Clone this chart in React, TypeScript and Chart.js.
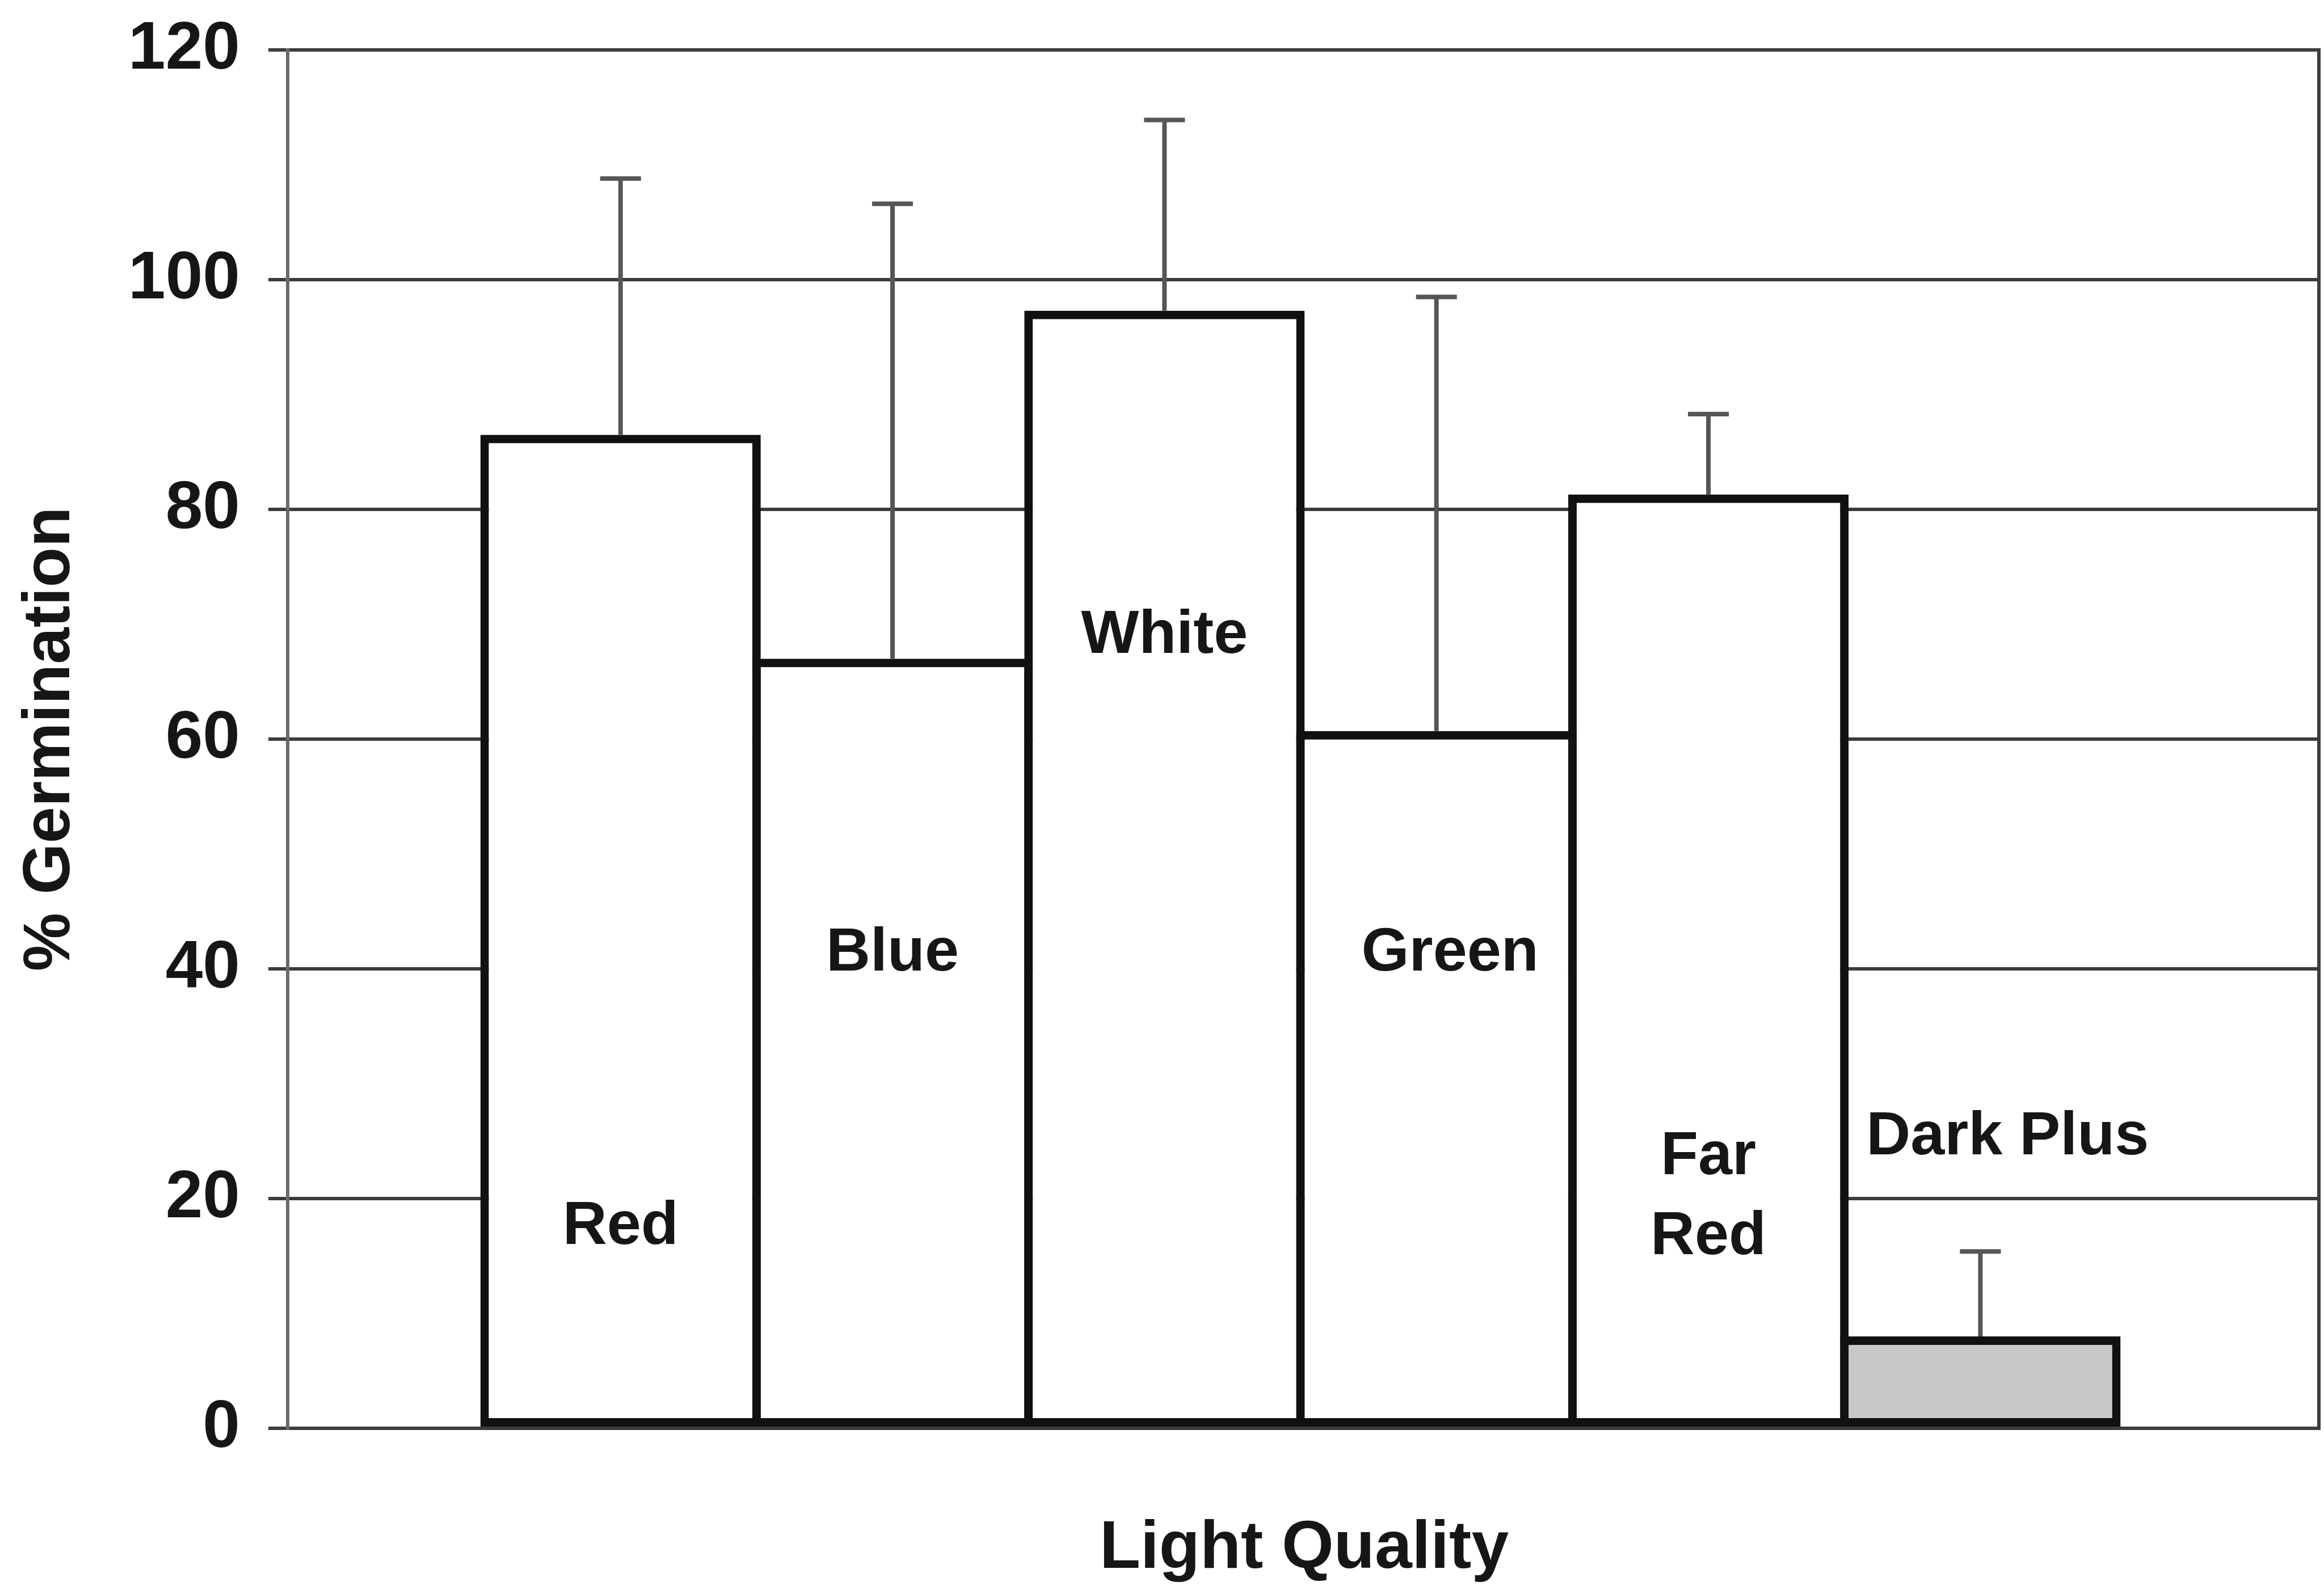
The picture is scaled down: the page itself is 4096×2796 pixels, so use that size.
import React, { useEffect, useRef } from "react";
import { Chart, registerables } from "chart.js";

Chart.register(...registerables);

// Germination under different light qualities (mean % with upper error bar)
const categories = ["Red", "Blue", "White", "Green", "Far Red", "Dark Plus"];
const germination = [86.5, 67, 97.3, 60.7, 81.3, 8];
const errorUpper = [22.3, 39.6, 16.6, 37.8, 7, 7.4];
const yTicks = [0, 20, 40, 60, 80, 100, 120];
const barLabelLines = [["Red"], ["Blue"], ["White"], ["Green"], ["Far", "Red"], ["Dark Plus"]];

const W = 4096;
const H = 2796;
const FONT = "'Liberation Sans', Arial, Helvetica, sans-serif";
const INK = "#161616";

// Vertical line closing the plot on the right
const frameRight = {
  id: "frameRight",
  beforeDatasetsDraw(chart: any) {
    const { ctx, chartArea } = chart;
    ctx.save();
    ctx.strokeStyle = "#3c3c3c";
    ctx.lineWidth = 6;
    ctx.beginPath();
    ctx.moveTo(chartArea.right - 3, chartArea.top);
    ctx.lineTo(chartArea.right - 3, chartArea.bottom);
    ctx.stroke();
    ctx.restore();
  },
};

// Upper error bars with a flat cap
const errorBars = {
  id: "errorBars",
  afterDatasetsDraw(chart: any) {
    const { ctx, scales } = chart;
    const x = scales.x;
    const y = scales.y;
    ctx.save();
    ctx.strokeStyle = "#565656";
    ctx.lineWidth = 8;
    germination.forEach((v, i) => {
      const px = x.getPixelForValue(i + 1);
      const base = y.getPixelForValue(v);
      const top = y.getPixelForValue(v + errorUpper[i]);
      ctx.beginPath();
      ctx.moveTo(px, base);
      ctx.lineTo(px, top);
      ctx.moveTo(px - 36, top);
      ctx.lineTo(px + 36, top);
      ctx.stroke();
    });
    ctx.restore();
  },
};

// Category names written inside / above the bars
const barLabels = {
  id: "barLabels",
  afterDatasetsDraw(chart: any, _args: any, opts: any) {
    const { ctx, scales } = chart;
    const x = scales.x;
    const y = scales.y;
    ctx.save();
    ctx.fillStyle = INK;
    ctx.font = `bold ${opts.size}px ${FONT}`;
    ctx.textAlign = "center";
    ctx.textBaseline = "middle";
    barLabelLines.forEach((lines, i) => {
      const cx = x.getPixelForValue(i + 1 + opts.shift[i]);
      const cy = y.getPixelForValue(opts.level[i]);
      const n = lines.length;
      lines.forEach((t, k) => {
        ctx.fillText(t, cx, cy + (k - (n - 1) / 2) * opts.lineGap);
      });
    });
    ctx.restore();
  },
};

export default function App() {
  const ref = useRef<HTMLCanvasElement>(null);

  useEffect(() => {
    const canvas = ref.current;
    if (!canvas) return;
    const borderW = 15;
    const chart = new Chart(canvas, {
      type: "bar",
      data: {
        labels: categories,
        datasets: [
          {
            label: "% Germination",
            data: germination.map((v, i) => ({ x: i + 1, y: v })),
            backgroundColor: categories.map((_, i) => (i === categories.length - 1 ? "#c8c8c8" : "#ffffff")),
            borderColor: "#111111",
            borderWidth: borderW,
            borderSkipped: false,
            barPercentage: 1.031,
            categoryPercentage: 1,
          },
        ],
      },
      plugins: [frameRight, errorBars, barLabels],
      options: {
        responsive: false,
        animation: false,
        devicePixelRatio: 1,
        layout: { padding: { top: 88, right: 6, bottom: 0, left: 0 } },
        plugins: {
          legend: { display: false },
          tooltip: { enabled: false },
          barLabels: {
            size: 108,
            lineGap: 141,
            level: [17.5, 41.3, 69, 41.3, 20.1, 25.3],
            shift: [0, 0, 0, 0.05, 0, 0.1],
          },
        } as any,
        scales: {
          x: {
            type: "linear",
            min: -0.224,
            max: 7.251,
            offset: false,
            afterBuildTicks: (s: any) => {
              s.ticks = categories.map((_, i) => ({ value: i + 1 }));
            },
            grid: { display: false, offset: false },
            border: { display: false },
            ticks: { display: false },
            title: {
              display: true,
              text: "Light Quality",
              color: INK,
              font: { family: FONT, size: 118, weight: "bold", lineHeight: 1 },
              padding: { top: 0, bottom: 6 },
            },
            afterFit: (s: any) => {
              s.height = 278;
            },
          },
          y: {
            type: "linear",
            min: 0,
            max: 120,
            afterBuildTicks: (s: any) => {
              s.ticks = yTicks.map((v) => ({ value: v }));
            },
            grid: {
              color: "#3c3c3c",
              lineWidth: 6,
              tickLength: 34,
              drawTicks: true,
            },
            border: { display: true, color: "#6a6a6a", width: 6 },
            ticks: {
              color: INK,
              padding: 50,
              font: { family: FONT, size: 118, weight: "bold" },
            },
            title: {
              display: true,
              text: "% Germination",
              color: INK,
              font: { family: FONT, size: 116, weight: "bold", lineHeight: 1 },
              padding: { top: 32, bottom: 0 },
            },
            afterFit: (s: any) => {
              s.width = 507;
              s.paddingTop = 0;
              s.paddingBottom = 0;
            },
          },
        },
      } as any,
    });
    return () => chart.destroy();
  }, []);

  return (
    <div style={{ position: "fixed", left: 0, top: 0, width: W, height: H, background: "#ffffff" }}>
      <canvas ref={ref} width={W} height={H} style={{ width: W, height: H, display: "block" }} />
    </div>
  );
}
